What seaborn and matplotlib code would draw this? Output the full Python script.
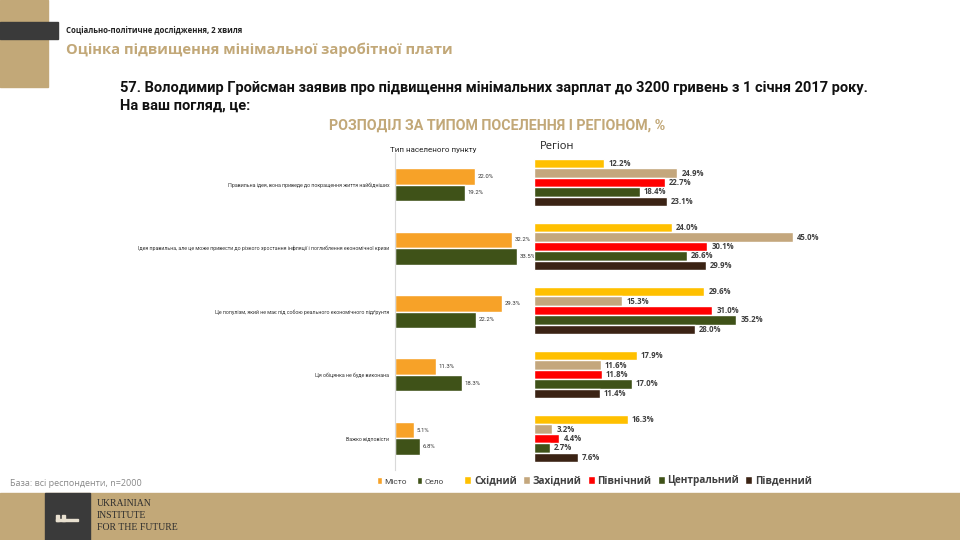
import numpy as np
import pandas as pd
import seaborn as sns
import matplotlib.pyplot as plt
from matplotlib.patches import Rectangle

# données
answers = ['Правильна ідея, вона приведе до покращення життя найбідніших',
           'Ідея правильна, але це може привести до різкого зростання інфляції і поглиблення економічної кризи',
           'Це популізм, який не має під собою реального економічного підґрунтя',
           'Ця обіцянка не буде виконана',
           'Важко відповісти']

settlements = ['Місто', 'Село']
misto = [22.0, 32.2, 29.3, 11.3, 5.1]
selo = [19.2, 33.5, 22.2, 18.3, 6.8]

regions = ['Східний', 'Західний', 'Північний', 'Центральний', 'Південний']
skhidnyi = [12.2, 24.0, 29.6, 17.9, 16.3]
zakhidnyi = [24.9, 45.0, 15.3, 11.6, 3.2]
pivnichnyi = [22.7, 30.1, 31.0, 11.8, 4.4]
tsentralnyi = [18.4, 26.6, 35.2, 17.0, 2.7]
pivdennyi = [23.1, 29.9, 28.0, 11.4, 7.6]

# couleurs
tan = '#C2A878'
dark = '#3A3A3A'
col_settl = ['#F7A228', '#3F5218']
col_reg = ['#FFC000', '#C4A77D', '#FF0000', '#3F5218', '#3B2314']

NARROW = ['Roboto', 'DejaVu Sans']

df_settl = pd.DataFrame({'answer': answers * 2,
                         'group': [settlements[0]] * 5 + [settlements[1]] * 5,
                         'value': misto + selo})
df_reg = pd.DataFrame({'answer': answers * 5,
                       'group': sum([[r] * 5 for r in regions], []),
                       'value': skhidnyi + zakhidnyi + pivnichnyi + tsentralnyi + pivdennyi})

sns.set_style('white')
plt.rcParams['font.family'] = ['Open Sans', 'DejaVu Sans']

W, H = 960, 540
fig = plt.figure(figsize=(W / 100, H / 100), dpi=100)


def px_axes(x0, y0, x1, y1):
    # positions en pixels (origine en haut à gauche)
    return fig.add_axes([x0 / W, 1 - y1 / H, (x1 - x0) / W, (y1 - y0) / H])


# décor de l'en-tête
fig.patches.append(Rectangle((0, 1 - 87 / H), 48 / W, 87 / H, transform=fig.transFigure,
                             color=tan, zorder=0))
fig.patches.append(Rectangle((0, 1 - 39 / H), 58 / W, 17 / H, transform=fig.transFigure,
                             color=dark, zorder=1))
fig.text(66 / W, 1 - 31 / H, 'Соціально-політичне дослідження, 2 хвиля', fontsize=5.6,
         fontweight='bold', color='#222222', va='center')
fig.text(66 / W, 1 - 50 / H, 'Оцінка підвищення мінімальної заробітної плати', fontsize=10.6,
         fontweight='bold', color=tan, va='center')
fig.text(120 / W, 1 - 88 / H,
         '57. Володимир Гройсман заявив про підвищення мінімальних зарплат до 3200 гривень з 1 січня 2017 року.',
         fontsize=10.5, fontweight='bold', color='#111111', va='center', family=NARROW)
fig.text(120 / W, 1 - 106 / H, 'На ваш погляд, це:', fontsize=10.5, fontweight='bold',
         color='#111111', va='center', family=NARROW)
fig.text(497 / W, 1 - 126 / H, 'РОЗПОДІЛ ЗА ТИПОМ ПОСЕЛЕННЯ І РЕГІОНОМ, %', fontsize=10.3,
         fontweight='bold', color=tan, va='center', ha='center', family=NARROW)

# graphe type de localité
ax1 = px_axes(395, 153, 395 + 40 * 3.64, 470)
sns.barplot(data=df_settl, x='value', y='answer', hue='group', orient='h', palette=col_settl,
            width=0.52, saturation=1, ax=ax1)
ax1.set_xlim(0, 40)
ax1.set_xlabel('')
ax1.set_ylabel('')
ax1.set_xticks([])
ax1.tick_params(axis='y', length=0, pad=4)
for lab in ax1.get_yticklabels():
    lab.set_fontsize(3.8)
    lab.set_family(NARROW)
    lab.set_color('#333333')
for s in ['top', 'right', 'bottom']:
    ax1.spines[s].set_visible(False)
ax1.spines['left'].set_color('#D9D9D9')
ax1.spines['left'].set_linewidth(0.8)
for c in ax1.containers:
    ax1.bar_label(c, fmt='%.1f%%', padding=2, fontsize=4.3, color='#333333', family=NARROW)
ax1.set_title('Тип населеного пункту', fontsize=5.8, color='#222222', family=NARROW, pad=-3,
              x=0.26)
sns.move_legend(ax1, 'center left', bbox_to_anchor=(369 / W, 1 - 481 / H),
                bbox_transform=fig.transFigure, ncol=2, frameon=False, title=None,
                fontsize=6, handlelength=0.6, handleheight=0.9, handletextpad=0.3,
                columnspacing=1.3)
for t in ax1.get_legend().get_texts():
    t.set_family(NARROW)
    t.set_color('#444444')

# graphe région
ax2 = px_axes(534, 150.5, 534 + 50 * 5.75, 470.5)
sns.barplot(data=df_reg, x='value', y='answer', hue='group', orient='h', palette=col_reg,
            width=0.74, saturation=1, ax=ax2)
ax2.set_xlim(0, 50)
ax2.set_xlabel('')
ax2.set_ylabel('')
ax2.set_xticks([])
ax2.set_yticks([])
sns.despine(ax=ax2, left=True, bottom=True)
for c in ax2.containers:
    ax2.bar_label(c, fmt='%.1f%%', padding=3, fontsize=5.6, fontweight='bold', color='#404040')
ax2.text(0.02, 0.995, 'Регіон', transform=ax2.transAxes, fontsize=8, color='#222222',
         va='bottom', ha='left')
sns.move_legend(ax2, 'center left', bbox_to_anchor=(455 / W, 1 - 481 / H),
                bbox_transform=fig.transFigure, ncol=5, frameon=False, title=None,
                fontsize=7.2, handlelength=0.7, handleheight=0.8, handletextpad=0.3,
                columnspacing=0.6)
for t in ax2.get_legend().get_texts():
    t.set_fontweight('bold')
    t.set_color('#404040')

# pied de page
fig.text(10 / W, 1 - 484 / H, 'База: всі респонденти, n=2000', fontsize=6.5, color='#888888',
         va='center')
fig.patches.append(Rectangle((0, 0), 1, 47 / H, transform=fig.transFigure, color=tan, zorder=0))
fig.patches.append(Rectangle((45 / W, 0), 45 / W, 47 / H, transform=fig.transFigure,
                             color=dark, zorder=1))
fig.patches.append(Rectangle((56 / W, 1 - 521 / H), 22 / W, 2 / H, transform=fig.transFigure,
                             color='#E8E0D0', zorder=2))
fig.patches.append(Rectangle((56 / W, 1 - 521 / H), 3 / W, 6 / H, transform=fig.transFigure,
                             color='#E8E0D0', zorder=2))
fig.patches.append(Rectangle((62 / W, 1 - 521 / H), 3 / W, 6 / H, transform=fig.transFigure,
                             color='#E8E0D0', zorder=2))
for i, line in enumerate(['UKRAINIAN', 'INSTITUTE', 'FOR THE FUTURE']):
    fig.text(97 / W, 1 - (503 + 12.5 * i) / H, line, fontsize=7, color='#2E2E2E',
             family=['Liberation Serif', 'DejaVu Serif'], va='center')

fig.savefig('out.png', dpi=100)
